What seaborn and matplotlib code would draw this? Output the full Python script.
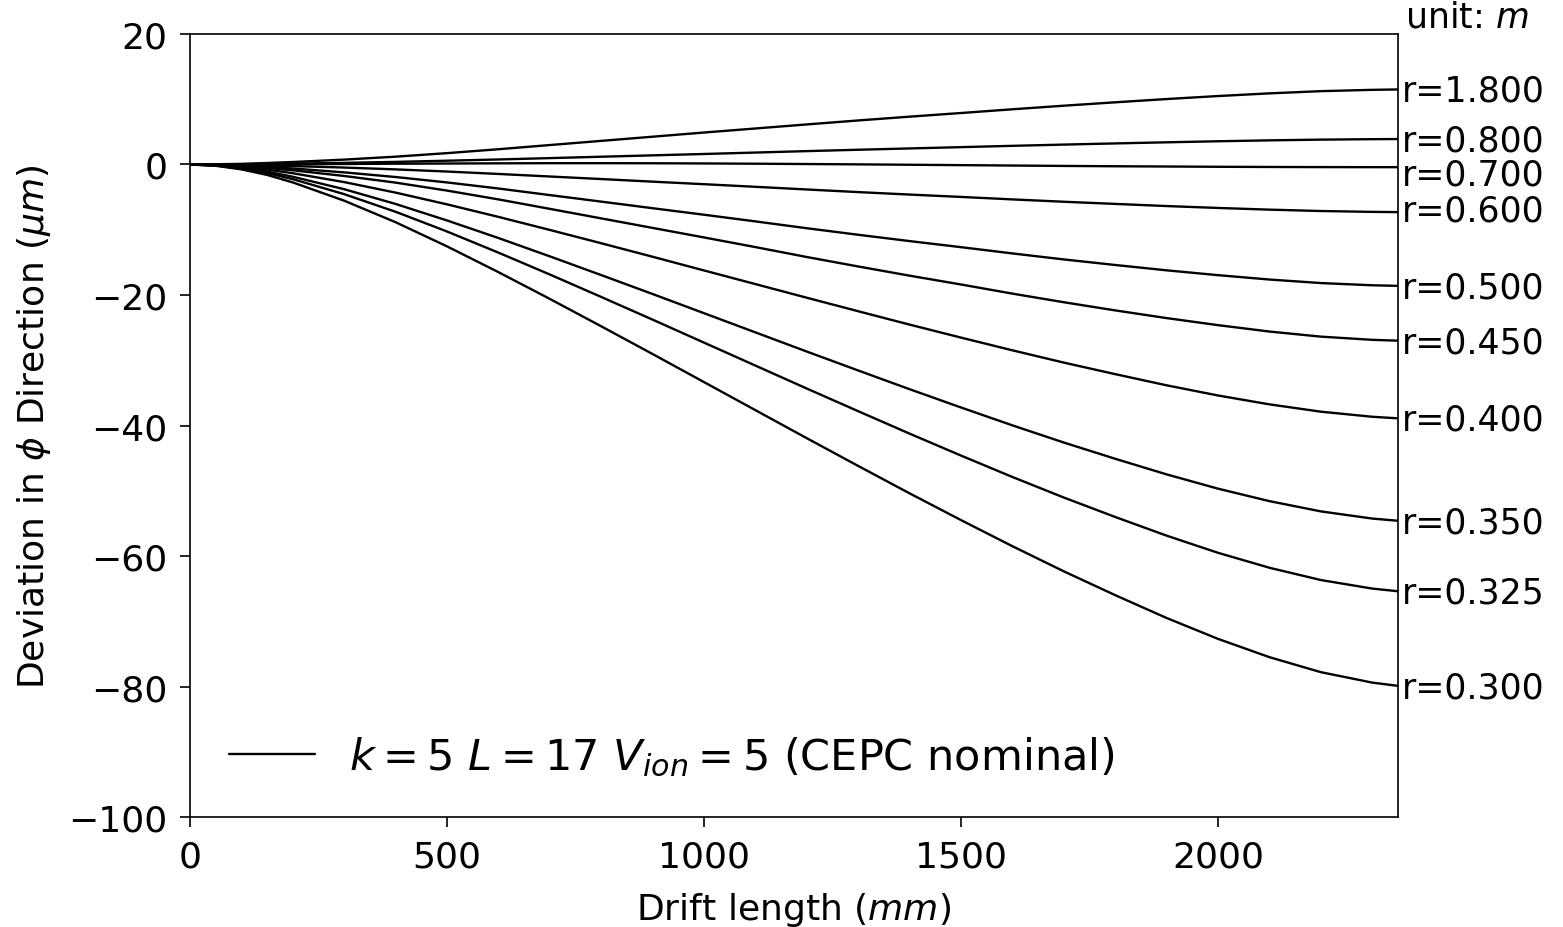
import numpy as np
import pandas as pd
import matplotlib
matplotlib.use("Agg")
import matplotlib.pyplot as plt
import seaborn as sns

drift = [0, 50, 100, 150, 200, 300, 400, 500, 600, 700, 800, 900, 1000, 1100,
         1200, 1300, 1400, 1500, 1600, 1700, 1800, 1900, 2000, 2100, 2200,
         2300, 2350]

# deviation in phi direction (um), one curve per radius r (m)
radii = ["1.800", "0.800", "0.700", "0.600", "0.500", "0.450",
         "0.400", "0.350", "0.325", "0.300"]
dev_r1800 = [0, 0.03, 0.10, 0.23, 0.38, 0.75, 1.20, 1.74, 2.34, 2.98, 3.62,
             4.26, 4.90, 5.52, 6.14, 6.75, 7.33, 7.89, 8.46, 9.01, 9.53,
             10.03, 10.49, 10.90, 11.24, 11.44, 11.5]
dev_r0800 = [0, 0.01, 0.04, 0.08, 0.13, 0.25, 0.40, 0.58, 0.77, 0.98, 1.19,
             1.40, 1.61, 1.83, 2.05, 2.26, 2.46, 2.66, 2.86, 3.05, 3.23,
             3.40, 3.56, 3.70, 3.81, 3.88, 3.9]
dev_r0700 = [0, 0.0, 0.01, 0.02, 0.04, 0.08, 0.12, 0.15, 0.18, 0.20, 0.20,
             0.19, 0.16, 0.12, 0.07, 0.02, -0.04, -0.10, -0.16, -0.22, -0.27,
             -0.31, -0.35, -0.38, -0.40, -0.41, -0.41]
dev_r0600 = [0, -0.02, -0.07, -0.15, -0.24, -0.47, -0.75, -1.08, -1.45,
             -1.84, -2.23, -2.63, -3.02, -3.42, -3.83, -4.23, -4.61, -4.97,
             -5.35, -5.71, -6.04, -6.37, -6.66, -6.92, -7.13, -7.26, -7.3]
dev_r0500 = [0, -0.04, -0.17, -0.37, -0.61, -1.21, -1.92, -2.75, -3.68,
             -4.69, -5.69, -6.70, -7.70, -8.72, -9.77, -10.77, -11.74,
             -12.67, -13.63, -14.55, -15.40, -16.22, -16.96, -17.63, -18.17,
             -18.51, -18.6]
dev_r0450 = [0, -0.06, -0.24, -0.54, -0.89, -1.76, -2.78, -4.00, -5.35,
             -6.80, -8.26, -9.72, -11.18, -12.66, -14.18, -15.63, -17.04,
             -18.39, -19.79, -21.11, -22.36, -23.54, -24.62, -25.60, -26.38,
             -26.87, -27.0]
dev_r0400 = [0, -0.10, -0.37, -0.78, -1.34, -2.70, -4.31, -6.11, -8.03,
             -10.03, -12.07, -14.14, -16.24, -18.33, -20.42, -22.49, -24.54,
             -26.53, -28.48, -30.36, -32.13, -33.84, -35.40, -36.76, -37.88,
             -38.66, -38.9]
dev_r0350 = [0, -0.14, -0.51, -1.09, -1.88, -3.79, -6.05, -8.58, -11.27,
             -14.08, -16.95, -19.85, -22.79, -25.73, -28.67, -31.57, -34.44,
             -37.24, -39.98, -42.61, -45.10, -47.49, -49.68, -51.59, -53.16,
             -54.26, -54.6]
dev_r0325 = [0, -0.16, -0.61, -1.31, -2.25, -4.55, -7.25, -10.27, -13.51,
             -16.86, -20.30, -23.78, -27.30, -30.82, -34.34, -37.81, -41.25,
             -44.61, -47.89, -51.04, -54.02, -56.88, -59.51, -61.80, -63.68,
             -64.99, -65.4]
dev_r0300 = [0, -0.20, -0.75, -1.60, -2.75, -5.55, -8.85, -12.55, -16.50,
             -20.60, -24.80, -29.05, -33.35, -37.65, -41.95, -46.20, -50.40,
             -54.50, -58.50, -62.35, -66.00, -69.50, -72.70, -75.50, -77.80,
             -79.40, -79.9]

curves = [dev_r1800, dev_r0800, dev_r0700, dev_r0600, dev_r0500,
          dev_r0450, dev_r0400, dev_r0350, dev_r0325, dev_r0300]

# small vertical nudges (points) so the crowded tags near zero stay apart
tag_nudge = [0, 0, -4.5, 2.5, 0, 0, 0, 0, 0, 0]

sns.set_style("ticks")
plt.rcParams["font.family"] = ["DejaVu Sans"]
plt.rcParams["mathtext.fontset"] = "dejavusans"
plt.rcParams["text.color"] = "black"
plt.rcParams["axes.labelcolor"] = "black"
plt.rcParams["xtick.color"] = "black"
plt.rcParams["ytick.color"] = "black"

fig, ax = plt.subplots(figsize=(15.63, 9.28), dpi=100)
fig.subplots_adjust(left=0.1216, right=0.8944, top=0.9623, bottom=0.1185)

for i, (r, dev) in enumerate(zip(radii, curves)):
    df = pd.DataFrame({"drift": drift, "dev": dev})
    label = r"$k=5$ $L=17$ $V_{ion}=5$ (CEPC nominal)" if i == 0 else None
    sns.lineplot(data=df, x="drift", y="dev", color="black", lw=1.7,
                 ax=ax, label=label, legend=False)
    # radius tag just outside the right spine
    ax.annotate("r=" + r, xy=(drift[-1], dev[-1]),
                xytext=(3, -1 + tag_nudge[i]),
                textcoords="offset points", va="center", ha="left",
                fontsize=25, annotation_clip=False)

ax.text(1.006, 1.0, "unit: $m$", transform=ax.transAxes, fontsize=25,
        ha="left", va="bottom")

ax.set_xlim(0, 2350)
ax.set_ylim(-100, 20)
ax.set_xticks([0, 500, 1000, 1500, 2000])
ax.set_yticks([-100, -80, -60, -40, -20, 0, 20])
ax.tick_params(labelsize=26, length=7, width=1.2, pad=9)
for sp in ax.spines.values():
    sp.set_visible(True)
    sp.set_linewidth(1.2)
    sp.set_color("black")

ax.set_xlabel("Drift length ($mm$)", fontsize=26, labelpad=12)
ax.set_ylabel(r"Deviation in $\phi$ Direction ($\mu m$)", fontsize=26,
              labelpad=11)

ax.legend(loc="lower left", frameon=False, fontsize=31,
          bbox_to_anchor=(0.0, 0.0), handlelength=2.0)

fig.savefig("out.png", dpi=100)
